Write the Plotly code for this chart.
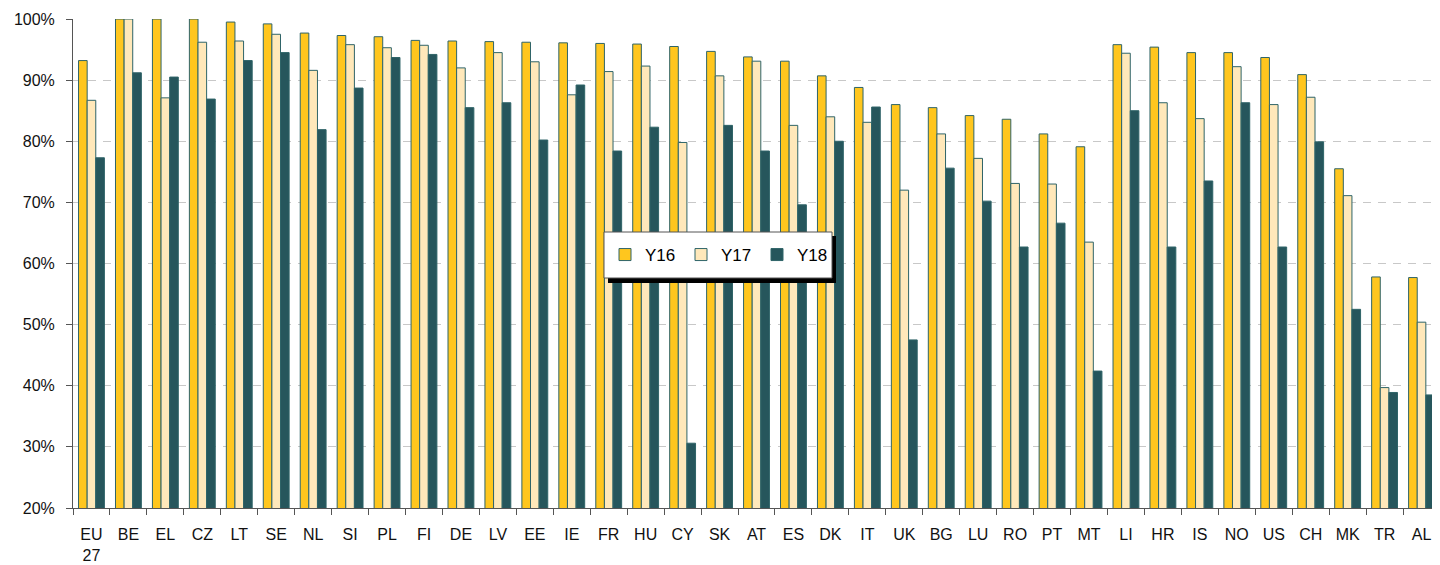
import plotly.graph_objects as go

countries = ["EU<br>27", "BE", "EL", "CZ", "LT", "SE", "NL", "SI", "PL", "FI", "DE", "LV", "EE", "IE",
             "FR", "HU", "CY", "SK", "AT", "ES", "DK", "IT", "UK", "BG", "LU", "RO", "PT", "MT",
             "LI", "HR", "IS", "NO", "US", "CH", "MK", "TR", "AL"]

y16 = [93.2, 100.0, 100.0, 100.0, 99.5, 99.2, 97.7, 97.3, 97.1, 96.5, 96.4, 96.3, 96.2, 96.1,
       96.0, 95.9, 95.5, 94.7, 93.8, 93.1, 90.7, 88.8, 86.0, 85.5, 84.2, 83.6, 81.2, 79.1,
       95.8, 95.4, 94.5, 94.5, 93.7, 90.9, 75.5, 57.8, 57.7]

y17 = [86.7, 100.0, 87.1, 96.2, 96.4, 97.5, 91.6, 95.8, 95.3, 95.7, 92.0, 94.5, 93.0, 87.6,
       91.4, 92.3, 79.8, 90.7, 93.1, 82.6, 84.0, 83.1, 72.0, 81.2, 77.2, 73.1, 73.0, 63.5,
       94.4, 86.3, 83.7, 92.2, 86.0, 87.2, 71.1, 39.7, 50.4]

y18 = [77.3, 91.2, 90.5, 86.9, 93.2, 94.5, 81.9, 88.7, 93.7, 94.2, 85.5, 86.3, 80.2, 89.2,
       78.4, 82.3, 30.6, 82.6, 78.4, 69.6, 80.0, 85.6, 47.5, 75.6, 70.2, 62.7, 66.6, 42.4,
       85.0, 62.7, 73.5, 86.3, 62.7, 79.9, 52.5, 38.9, 38.5]

series_names = ["Y16", "Y17", "Y18"]
series_colors = ["#FFC61E", "#FFE8BA", "#26565C"]
y_ticks = [20, 30, 40, 50, 60, 70, 80, 90, 100]
y_tick_text = [f"{v}%" for v in y_ticks]

# page has an 8px body margin; figure sized to fit the window
OFF = 8
W, H = 1440 - OFF, 565 - OFF
ML, MR, MT, MB = 73 - OFF, 0, 19 - OFF, 57
PW, PH = W - ML - MR, H - MT - MB

def px_to_paper_x(px):  # px = page x coordinate
    return (px - OFF - ML) / PW

def px_to_paper_y(py):  # py = page y coordinate
    return (H - MB - (py - OFF)) / PH

fig = go.Figure()
for name, vals, col in zip(series_names, [y16, y17, y18], series_colors):
    fig.add_trace(go.Bar(
        name=name, x=countries, y=vals,
        marker=dict(color=col, line=dict(color="#2F6468", width=1)),
        hoverinfo="x+y+name",
    ))

# legend box with shadow (decoration)
fig.add_shape(type="rect", xref="paper", yref="paper", layer="above",
              x0=px_to_paper_x(608), x1=px_to_paper_x(836),
              y0=px_to_paper_y(283), y1=px_to_paper_y(236),
              fillcolor="#000000", line=dict(width=0))
fig.add_shape(type="rect", xref="paper", yref="paper", layer="above",
              x0=px_to_paper_x(604), x1=px_to_paper_x(832),
              y0=px_to_paper_y(278), y1=px_to_paper_y(232),
              fillcolor="#FFFFFF", line=dict(color="#555555", width=1))

fig.update_layout(
    width=W, height=H,
    margin=dict(l=ML, r=MR, t=MT, b=MB, pad=0, autoexpand=False),
    paper_bgcolor="white", plot_bgcolor="white",
    barmode="group", bargap=0.3, bargroupgap=0,
    font=dict(family="Liberation Sans, Arial, sans-serif", size=16, color="#111111"),
    showlegend=True,
    legend=dict(
        orientation="h", x=px_to_paper_x(605), y=px_to_paper_y(255),
        xanchor="left", yanchor="middle",
        bgcolor="rgba(0,0,0,0)", borderwidth=0,
        font=dict(size=17, color="#000000"),
        entrywidth=31, entrywidthmode="pixels",
        traceorder="normal",
    ),
    xaxis=dict(
        type="category", showgrid=False, automargin=False,
        showline=True, linecolor="#555555", linewidth=1,
        ticks="outside", tickson="boundaries", ticklen=6, tickcolor="#555555",
        tickfont=dict(size=16), ticklabelstandoff=12,
    ),
    yaxis=dict(
        range=[20, 100], tickvals=y_ticks, ticktext=y_tick_text, automargin=False,
        showgrid=True, gridcolor="#C8C8C8", gridwidth=1, griddash="8px,7px",
        showline=True, linecolor="#555555", linewidth=1,
        ticks="outside", ticklen=6, tickcolor="#555555",
        tickfont=dict(size=16), zeroline=False, ticklabelstandoff=8,
    ),
)

fig.write_html("out.html")
